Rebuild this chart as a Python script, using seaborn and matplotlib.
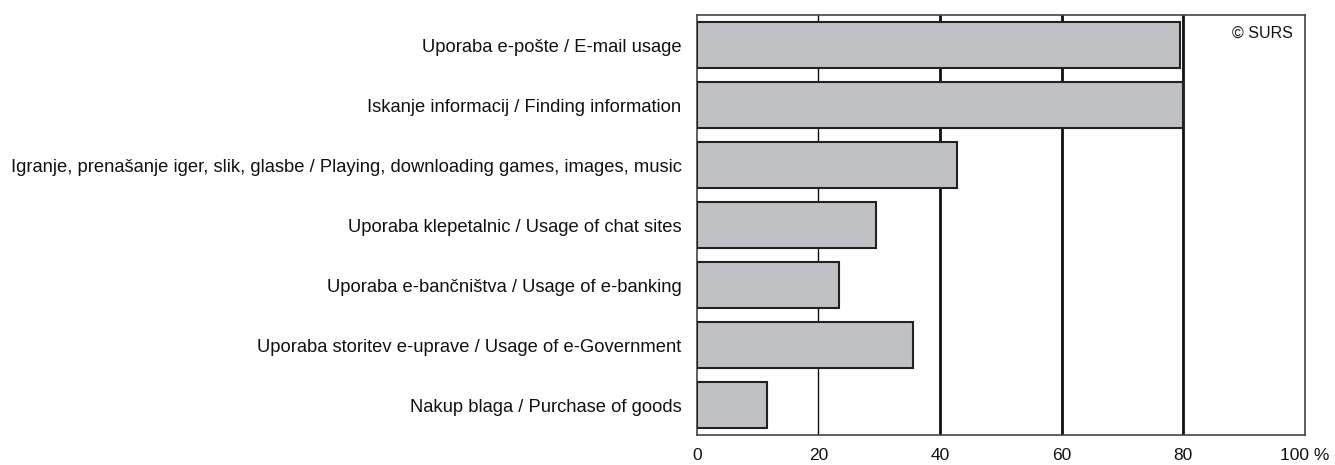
import pandas as pd
import matplotlib
matplotlib.use("Agg")
import matplotlib.pyplot as plt
import seaborn as sns

categories=["Uporaba e-pošte / E-mail usage",
            "Iskanje informacij / Finding information",
            "Igranje, prenašanje iger, slik, glasbe / Playing, downloading games, images, music",
            "Uporaba klepetalnic / Usage of chat sites",
            "Uporaba e-bančništva / Usage of e-banking",
            "Uporaba storitev e-uprave / Usage of e-Government",
            "Nakup blaga / Purchase of goods"]
values=[79.4,79.9,42.7,29.4,23.4,35.5,11.6]
x_ticks=[0,20,40,60,80,100]
x_ticklabels=["0","20","40","60","80","100 %"]

sns.set_style("white")
plt.rcParams["font.family"]=["Liberation Sans","DejaVu Sans"]

data=pd.DataFrame({"activity":categories,"share":values})

fig=plt.figure(figsize=(13.35,4.65),dpi=100)
ax=fig.add_axes([0.522,0.0645,0.4555,0.903])
sns.barplot(data=data,x="share",y="activity",orient="h",color="#c0c1c4",
            saturation=1,width=0.77,edgecolor="#222222",linewidth=1.5,ax=ax,zorder=3)

ax.set_xlim(0,100)
ax.set_ylim(6.5,-0.5)
ax.set_xticks(x_ticks)
ax.set_xticklabels(x_ticklabels)
ax.set_xlabel("")
ax.set_ylabel("")
ax.tick_params(axis="both",length=0,colors="#111111")
ax.tick_params(axis="x",pad=9,labelsize=12.5)
ax.tick_params(axis="y",pad=11,labelsize=13.2)

ax.xaxis.grid(True,color="#111111",zorder=0)
for val,gl in zip(x_ticks,ax.get_xgridlines()):
    gl.set_linewidth(1.0 if val==20 else 2.0)
    if val in (0,100):
        gl.set_visible(False)
ax.set_axisbelow(True)

for sp in ax.spines.values():
    sp.set_color("#444444")
    sp.set_linewidth(1.2)

ax.text(0.98,0.975,"© SURS",transform=ax.transAxes,ha="right",va="top",fontsize=11.5,color="#111111")

fig.savefig("out.png",dpi=100)
